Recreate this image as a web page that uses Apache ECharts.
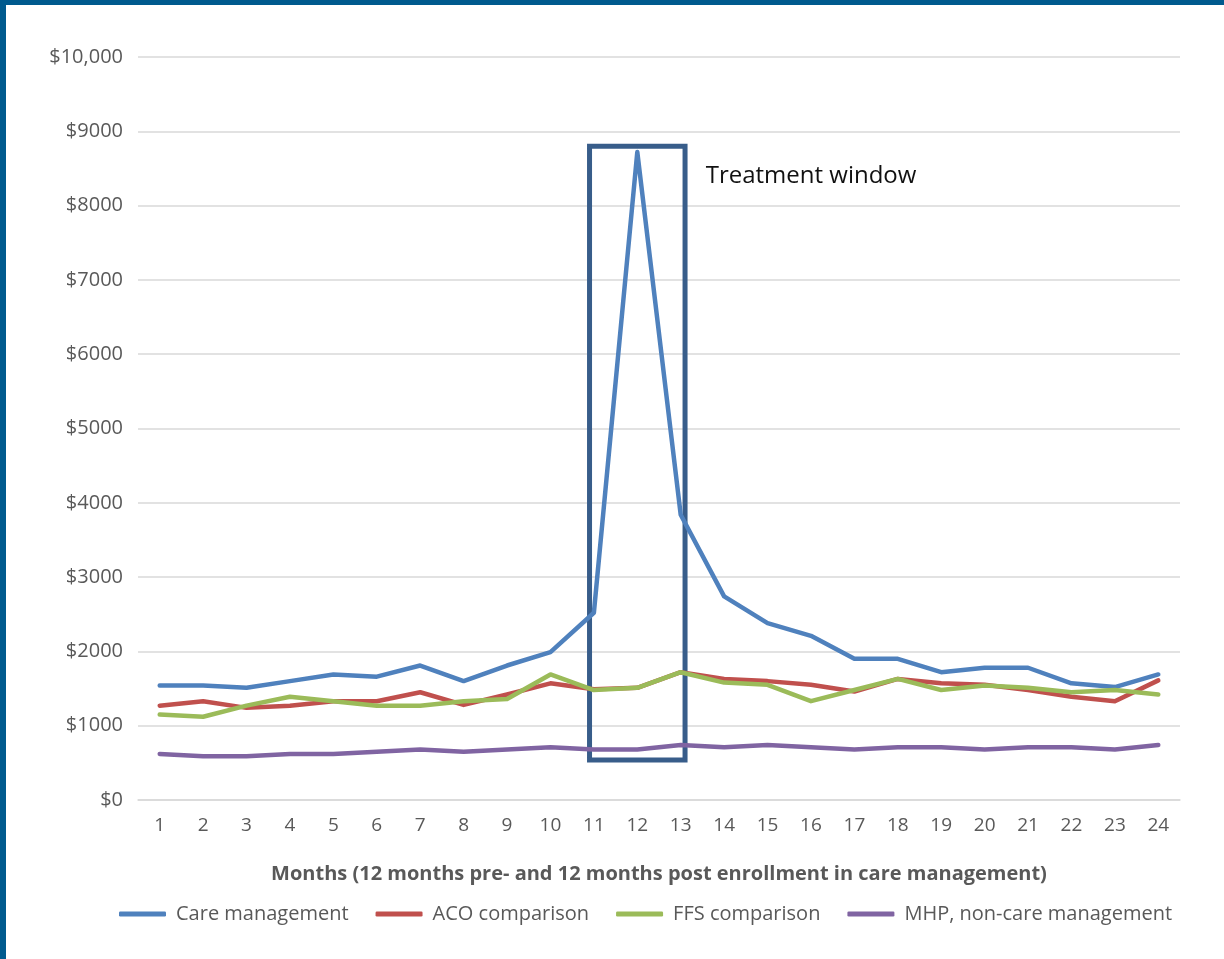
<!DOCTYPE html>
<html>
<head>
<meta charset="utf-8">
<script src="https://cdn.jsdelivr.net/npm/echarts@6/dist/echarts.min.js"></script>
<style>
html,body{margin:0;padding:0;background:#fff;}
#chart{width:1224px;height:959px;position:absolute;left:0;top:0;}
.bt{position:absolute;left:0;top:0;width:1224px;height:5px;background:#005a8e;}
.bl{position:absolute;left:0;top:0;width:6px;height:959px;background:#005a8e;}
</style>
</head>
<body>
<div id="chart"></div>
<div class="bt"></div>
<div class="bl"></div>
<script>
const months = ['1','2','3','4','5','6','7','8','9','10','11','12','13','14','15','16','17','18','19','20','21','22','23','24'];
const careManagement = [1540,1540,1510,1600,1690,1660,1810,1600,1810,1990,2520,8720,3840,2740,2380,2210,1900,1900,1720,1780,1780,1570,1520,1690];
const acoComparison = [1270,1330,1240,1270,1330,1330,1450,1280,1420,1570,1490,1510,1720,1630,1600,1550,1460,1630,1570,1550,1480,1390,1330,1610];
const ffsComparison = [1150,1120,1270,1390,1330,1270,1270,1330,1360,1690,1480,1510,1720,1580,1550,1330,1480,1630,1480,1540,1510,1450,1480,1420];
const mhpNonCare = [620,590,590,620,620,650,680,650,680,710,680,680,740,710,740,710,680,710,710,680,710,710,680,740];
const seriesNames = ['Care management','ACO comparison','FFS comparison','MHP, non-care management'];
const windowStart = '11', windowEnd = '13', windowLow = 540, windowHigh = 8800;
const annotationText = 'Treatment window';

const colors = ['#4f81bd','#c0504d','#9bbb59','#8064a2'];
const font = '"Open Sans", Lato, sans-serif';
const chart = echarts.init(document.getElementById('chart'));

// box drawn slightly outside the category centres (on a hidden value axis aligned with the bands)
const pad = 0.1;
const boxX0 = months.indexOf(windowStart) - pad;
const boxX1 = months.indexOf(windowEnd) + pad;

function lineSeries(name, data, color, extra) {
  return Object.assign({
    name: name, type: 'line', data: data, showSymbol: false, symbol: 'none',
    lineStyle: {width: 4.5, color: color, cap: 'round', join: 'round'},
    itemStyle: {color: color}, animation: false
  }, extra || {});
}

chart.setOption({
  animation: false,
  color: colors,
  grid: {left: 138, right: 44, top: 57, bottom: 159, containLabel: false},
  xAxis: [{
    type: 'category', data: months, boundaryGap: true,
    name: 'Months (12 months pre- and 12 months post enrollment in care management)',
    nameLocation: 'middle', nameGap: 64,
    nameTextStyle: {fontFamily: font, fontSize: 20, fontWeight: 'bold', color: '#595959'},
    axisLine: {show: true, lineStyle: {color: '#d9d9d9', width: 1.5}},
    axisTick: {show: false},
    axisLabel: {fontFamily: font, fontSize: 19, color: '#595959', margin: 16}
  }, {
    type: 'value', show: false, min: -0.5, max: months.length - 0.5
  }],
  yAxis: {
    type: 'value', min: 0, max: 10000, interval: 1000,
    axisLine: {show: false}, axisTick: {show: false},
    splitLine: {lineStyle: {color: '#d9d9d9', width: 1.5}},
    axisLabel: {fontFamily: font, fontSize: 20, color: '#595959', margin: 15,
      formatter: v => v >= 10000 ? '$' + v.toLocaleString('en-US') : '$' + v}
  },
  legend: {
    top: 899, left: 114, itemWidth: 47, itemHeight: 5, itemGap: 27,
    icon: 'roundRect',
    textStyle: {fontFamily: font, fontSize: 20, color: '#595959', padding: [0,0,0,5]},
    data: seriesNames
  },
  series: [
    lineSeries(seriesNames[0], careManagement, colors[0]),
    lineSeries(seriesNames[1], acoComparison, colors[1]),
    lineSeries(seriesNames[2], ffsComparison, colors[2]),
    lineSeries(seriesNames[3], mhpNonCare, colors[3], {
      markPoint: {
        silent: true, symbol: 'circle', symbolSize: 0,
        label: {show: true, position: 'right', distance: 25, formatter: annotationText,
          fontFamily: font, fontSize: 24, color: '#111'},
        data: [{coord: [windowEnd, 8400]}]
      }
    }),
    {
      name: 'window', type: 'line', xAxisIndex: 1, data: [], silent: true,
      markArea: {
        silent: true,
        itemStyle: {color: 'rgba(0,0,0,0)', borderColor: '#385d8a', borderWidth: 5},
        label: {show: false},
        data: [[{xAxis: boxX0, yAxis: windowLow}, {xAxis: boxX1, yAxis: windowHigh}]]
      }
    }
  ]
});
</script>
</body>
</html>
